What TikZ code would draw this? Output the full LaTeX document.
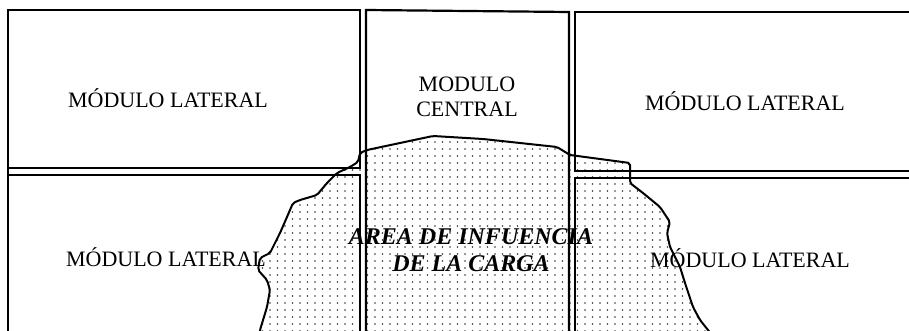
\documentclass[tikz,border=0pt]{standalone}
\usepackage{fontspec}
\setmainfont{Liberation Serif}
\usetikzlibrary{patterns.meta}

\tikzdeclarepattern{
  name=puntos,
  type=uncolored,
  bounding box={(-3.75pt,-3.5pt) and (3.75pt,3.5pt)},
  tile size={(7.5pt,7pt)},
  code={\fill (0pt,0pt) circle (0.95pt);}
}

\begin{document}
\begin{tikzpicture}[
      x=1pt, y=-1pt,
      font=\fontsize{22}{25}\selectfont,
      modulo/.style={draw, line width=2.2pt},
      borde/.style={draw, line width=2pt, line join=round},
      rotulo/.style={align=center, inner sep=1pt},
      carga/.style={align=center, inner sep=1pt,
        font=\fontsize{24}{27}\selectfont\bfseries\itshape}
    ]
    \useasboundingbox (0,0) rectangle (909,331);
    \clip (0,0) rectangle (909,331);

    % area de la carga
    \path[pattern={puntos}, pattern color=black!80]
      (258,345) -- (260,330) -- (267,307) -- (270,290) -- (267,280)
      -- (258,270) -- (260,258) -- (270,253) -- (280,233) -- (287,217)
      -- (293,203) -- (300,200) -- (317,195) -- (327,183) -- (337,173)
      -- (350,167) -- (358,162) -- (360,153) -- (367,150) -- (400,143)
      -- (433,136) -- (483,139) -- (557,147) -- (570,155) -- (630,163)
      -- (630,183) -- (643,193) -- (660,207) -- (670,222) -- (667,233)
      -- (670,247) -- (680,267) -- (685,283) -- (693,307) -- (700,320)
      -- (712,335) -- (718,345) -- cycle;

    % modulos
    \draw[modulo] (8,345) -- (8,10) -- (360,10) -- (360,168) -- (8,168);
    \draw[modulo] (8,345) -- (8,175) -- (360,175) -- (360,345);
    \draw[modulo] (366,345) -- (366,10) -- (569,12) -- (569,345);
    \draw[modulo] (920,12) -- (575,12) -- (575,171) -- (920,171);
    \draw[modulo] (920,178) -- (575,178) -- (575,345);

    % contorno
    \draw[borde, rounded corners=2pt]
      (258,345) -- (260,330) -- (267,307) -- (270,290) -- (267,280)
      -- (258,270) -- (260,258) -- (270,253) -- (280,233) -- (287,217)
      -- (293,203) -- (300,200) -- (317,195) -- (327,183) -- (337,173)
      -- (350,167) -- (358,162) -- (360,153) -- (367,150) -- (400,143)
      -- (433,136) -- (483,139) -- (557,147) -- (570,155) -- (630,163)
      -- (630,183) -- (643,193) -- (660,207) -- (670,222) -- (667,233)
      -- (670,247) -- (680,267) -- (685,283) -- (693,307) -- (700,320)
      -- (712,335) -- (718,345);

    \node[rotulo] (lat1) at (168,98) {MÓDULO LATERAL};
    \node[rotulo] (cen) at (467,97) {MODULO\\CENTRAL};
    \node[rotulo] (lat2) at (745,101) {MÓDULO LATERAL};
    \node[rotulo] (lat3) at (166,257) {MÓDULO LATERAL};
    \node[rotulo] (lat4) at (750,258) {MÓDULO LATERAL};
    \node[carga] (area) at (471,250) {AREA DE INFUENCIA\\DE LA CARGA};
  \end{tikzpicture}
\end{document}
